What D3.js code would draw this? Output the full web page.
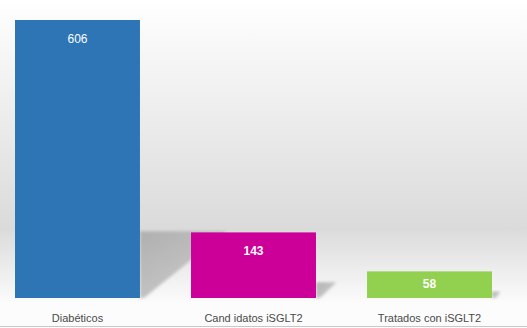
<!DOCTYPE html>
<html>
<head>
<meta charset="utf-8">
<script src="https://cdn.jsdelivr.net/npm/d3@7"></script>
<style>
  body { margin: 0; background: #fff; }
  svg { display: block; }
</style>
</head>
<body>
<script>
var categories = ["Diabéticos", "Cand idatos iSGLT2", "Tratados con iSGLT2"];
var values = [606, 143, 58];
var colors = ["#2e75b6", "#cc0099", "#92d050"];

var W = 527, H = 328, base = 298, yTop = 20;

var svg = d3.select("body").append("svg")
  .attr("width", W)
  .attr("height", H);

var defs = svg.append("defs");

// wall gradient, white at the top to light gray near the floor
var wall = defs.append("linearGradient").attr("id", "wall")
  .attr("x1", 0).attr("y1", 0).attr("x2", 0).attr("y2", 1);
wall.append("stop").attr("offset", "0%").attr("stop-color", "#ffffff");
wall.append("stop").attr("offset", "100%").attr("stop-color", "#dadada");

// floor gradient
var floor = defs.append("linearGradient").attr("id", "floor")
  .attr("x1", 0).attr("y1", 0).attr("x2", 0).attr("y2", 1);
floor.append("stop").attr("offset", "0%").attr("stop-color", "#dcdcdc");
floor.append("stop").attr("offset", "100%").attr("stop-color", "#fbfbfb");

defs.append("filter").attr("id", "blur")
  .attr("x", "-20%").attr("y", "-20%").attr("width", "140%").attr("height", "140%")
  .append("feGaussianBlur").attr("stdDeviation", 1.6);

var sg = defs.append("linearGradient").attr("id", "shade")
  .attr("x1", 0).attr("y1", 0).attr("x2", 1).attr("y2", 1);
sg.append("stop").attr("offset", "0%").attr("stop-color", "#a8a8a8");
sg.append("stop").attr("offset", "100%").attr("stop-color", "#c8c8c8");

svg.append("rect").attr("width", W).attr("height", 232).attr("fill", "url(#wall)");
svg.append("rect").attr("y", 231).attr("width", W).attr("height", base - 231 + 4).attr("fill", "url(#floor)");
svg.append("rect").attr("y", base + 4).attr("width", W).attr("height", H - base - 4).attr("fill", "#fcfcfc");
svg.append("line").attr("x1", 0).attr("x2", W).attr("y1", 326.5).attr("y2", 326.5)
  .attr("stroke", "#c8c8c8");

var x = d3.scaleBand().domain(categories).range([15, 492]).paddingInner(0.29).paddingOuter(0);
var y = d3.scaleLinear().domain([0, 606]).range([base, yTop]);

var data = categories.map(function (c, i) { return {cat: c, val: values[i], color: colors[i]}; });

// floor shadows behind each bar
svg.append("g").selectAll("path").data(data).enter().append("path")
  .attr("fill", "url(#shade)")
  .attr("opacity", 0.85)
  .attr("filter", "url(#blur)")
  .attr("d", function (d) {
    var x1 = x(d.cat) + x.bandwidth(), s = (base - y(d.val)) * 0.24;
    return "M" + [[x1, base], [x1, base - s], [x1 + s * 1.3, base - s], [x1 + 4, base]].join("L") + "Z";
  });

svg.append("g").selectAll("rect").data(data).enter().append("rect")
  .attr("x", function (d) { return x(d.cat); })
  .attr("y", function (d) { return y(d.val); })
  .attr("width", x.bandwidth())
  .attr("height", function (d) { return base - y(d.val); })
  .attr("fill", function (d) { return d.color; });

// value labels sit near the top, or centred when the bar is short
svg.append("g").selectAll("text").data(data).enter().append("text")
  .attr("x", function (d) { return x(d.cat) + x.bandwidth() / 2; })
  .attr("y", function (d) {
    var t = y(d.val);
    return Math.min(t + 23, (t + base) / 2 + 3);
  })
  .attr("text-anchor", "middle")
  .attr("fill", "#ffffff")
  .style("font-family", "'Liberation Sans', Arial, sans-serif")
  .style("font-size", "12px")
  .style("font-weight", function (d, i) { return i == 0 ? "normal" : "bold"; })
  .text(function (d) { return d.val; });

svg.append("g").selectAll("text").data(data).enter().append("text")
  .attr("x", function (d) { return x(d.cat) + x.bandwidth() / 2; })
  .attr("y", 322)
  .attr("text-anchor", "middle")
  .attr("fill", "#4a4a4a")
  .style("font-family", "'Liberation Sans', Arial, sans-serif")
  .style("font-size", "11px")
  .text(function (d) { return d.cat; });
</script>
</body>
</html>
